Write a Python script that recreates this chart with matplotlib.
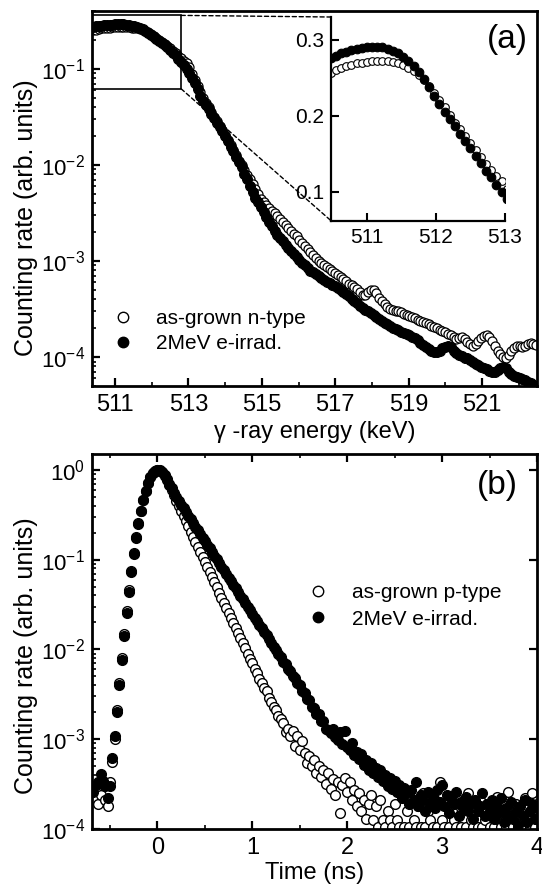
import numpy as np
import matplotlib
matplotlib.use("Agg")
import matplotlib.pyplot as plt
from matplotlib.lines import Line2D
from matplotlib.patches import Rectangle, ConnectionPatch
from matplotlib.ticker import FixedLocator, MultipleLocator, LogLocator, NullFormatter

plt.rcParams["font.family"] = ["Liberation Sans", "DejaVu Sans"]
plt.rcParams["mathtext.fontset"] = "custom"
plt.rcParams["mathtext.rm"] = "Liberation Sans"
plt.rcParams["mathtext.default"] = "regular"

# ---- (a) Doppler broadening spectra, channel grid 510.4 keV + 0.075 keV * k ----
E_START, E_STEP = 510.4, 0.075

dbs_asgrown = [
    0.253, 0.256, 0.260, 0.263, 0.265, 0.267, 0.269, 0.270, 0.271,
    0.272, 0.272, 0.272, 0.272, 0.271, 0.269, 0.267, 0.263, 0.259,
    0.254, 0.247, 0.239, 0.230, 0.221, 0.211, 0.201, 0.191, 0.182,
    0.173, 0.164, 0.155, 0.146, 0.137, 0.129, 0.121, 0.114, 0.104,
    0.0880, 0.0760, 0.0660, 0.0570, 0.0495, 0.0445, 0.0398, 0.0355, 0.0318,
    0.0284, 0.0256, 0.0231, 0.0206, 0.0182, 0.0160, 0.0143, 0.0126, 0.0111,
    0.0100, 8.91e-3, 7.94e-3, 7.08e-3, 6.31e-3, 5.62e-3, 5.01e-3, 4.47e-3, 4.12e-3,
    3.85e-3, 3.59e-3, 3.35e-3, 3.13e-3, 2.92e-3, 2.72e-3, 2.54e-3, 2.37e-3, 2.21e-3,
    2.07e-3, 1.93e-3, 1.80e-3, 1.66e-3, 1.55e-3, 1.45e-3, 1.33e-3, 1.24e-3, 1.16e-3,
    1.07e-3, 1.00e-3, 9.44e-4, 9.12e-4, 8.71e-4, 8.32e-4, 7.94e-4, 7.59e-4, 7.08e-4,
    6.76e-4, 6.46e-4, 6.17e-4, 5.82e-4, 5.62e-4, 5.37e-4, 5.13e-4, 4.79e-4, 4.47e-4,
    4.47e-4, 4.79e-4, 5.01e-4, 5.01e-4, 4.68e-4, 4.17e-4, 3.80e-4, 3.55e-4, 3.31e-4,
    3.16e-4, 3.09e-4, 3.02e-4, 3.05e-4, 2.95e-4, 2.82e-4, 2.75e-4, 2.69e-4, 2.63e-4,
    2.57e-4, 2.45e-4, 2.40e-4, 2.32e-4, 2.26e-4, 2.19e-4, 2.11e-4, 2.04e-4, 2.00e-4,
    1.93e-4, 1.86e-4, 1.82e-4, 1.76e-4, 1.70e-4, 1.62e-4, 1.55e-4, 1.58e-4, 1.62e-4,
    1.55e-4, 1.45e-4, 1.38e-4, 1.32e-4, 1.38e-4, 1.48e-4, 1.58e-4, 1.66e-4, 1.70e-4,
    1.62e-4, 1.48e-4, 1.32e-4, 1.17e-4, 1.07e-4, 1.00e-4, 9.77e-5, 1.05e-4, 1.15e-4,
    1.23e-4, 1.29e-4, 1.32e-4, 1.26e-4, 1.29e-4, 1.38e-4, 1.41e-4, 1.38e-4, 1.35e-4,
]

dbs_irrad = [
    0.272, 0.276, 0.279, 0.282, 0.284, 0.286, 0.288, 0.289, 0.290,
    0.291, 0.291, 0.290, 0.288, 0.285, 0.282, 0.277, 0.272, 0.265,
    0.257, 0.248, 0.238, 0.226, 0.215, 0.205, 0.196, 0.186, 0.176,
    0.167, 0.157, 0.147, 0.138, 0.128, 0.119, 0.109, 0.100, 0.091,
    0.0804, 0.0708, 0.0617, 0.0525, 0.0468, 0.0422, 0.0380, 0.0341, 0.0307,
    0.0275, 0.0248, 0.0224, 0.0200, 0.0178, 0.0155, 0.0138, 0.0122, 0.0107,
    9.44e-3, 8.13e-3, 7.08e-3, 6.10e-3, 5.25e-3, 4.57e-3, 4.07e-3, 3.63e-3, 3.24e-3,
    2.88e-3, 2.57e-3, 2.29e-3, 2.04e-3, 1.88e-3, 1.74e-3, 1.62e-3, 1.48e-3, 1.38e-3,
    1.27e-3, 1.17e-3, 1.10e-3, 1.02e-3, 9.55e-4, 9.02e-4, 8.51e-4, 7.94e-4, 7.67e-4,
    7.33e-4, 7.00e-4, 6.68e-4, 6.38e-4, 6.10e-4, 5.89e-4, 5.62e-4, 5.43e-4, 5.19e-4,
    5.01e-4, 4.79e-4, 4.57e-4, 4.32e-4, 4.07e-4, 3.85e-4, 3.63e-4, 3.39e-4, 3.24e-4,
    3.09e-4, 2.99e-4, 2.85e-4, 2.72e-4, 2.63e-4, 2.51e-4, 2.40e-4, 2.29e-4, 2.19e-4,
    2.09e-4, 2.02e-4, 1.95e-4, 1.91e-4, 1.84e-4, 1.78e-4, 1.72e-4, 1.68e-4, 1.62e-4,
    1.58e-4, 1.50e-4, 1.41e-4, 1.35e-4, 1.27e-4, 1.20e-4, 1.16e-4, 1.12e-4, 1.12e-4,
    1.17e-4, 1.23e-4, 1.27e-4, 1.29e-4, 1.26e-4, 1.17e-4, 1.11e-4, 1.06e-4, 1.02e-4,
    9.88e-5, 9.77e-5, 9.33e-5, 8.91e-5, 8.51e-5, 8.22e-5, 7.94e-5, 7.76e-5, 7.59e-5,
    7.24e-5, 7.08e-5, 7.08e-5, 7.41e-5, 7.76e-5, 7.94e-5, 7.76e-5, 7.08e-5, 6.61e-5,
    6.31e-5, 6.17e-5, 6.03e-5, 5.89e-5, 5.75e-5, 5.50e-5, 5.37e-5, 5.13e-5, 5.01e-5,
]

# ---- (b) lifetime spectra, channel grid -0.675 ns + 0.025 ns * k ----
T_START, T_STEP = -0.675, 0.025

lt_asgrown = [
    2.2e-4, 2.8e-4, 1.9e-4, 2.4e-4, 3.2e-4, 2.1e-4, 1.8e-4,
    3.3e-4, 5.6e-4, 1.0e-3, 2.1e-3, 4.2e-3, 8.0e-3, 0.0150,
    0.0265, 0.046, 0.075, 0.118, 0.178, 0.255, 0.350,
    0.462, 0.585, 0.710, 0.825, 0.918, 0.978, 1.0,
    0.98, 0.935, 0.86, 0.77, 0.68, 0.595, 0.52, 0.455,
    0.398, 0.348, 0.305, 0.267, 0.234, 0.205, 0.180, 0.158,
    0.139, 0.122, 0.107, 0.094, 0.0825, 0.0724, 0.0636, 0.0558,
    0.049, 0.043, 0.0378, 0.0332, 0.0291, 0.0256, 0.0224, 0.0197,
    0.0173, 0.0152, 0.0133, 0.0117, 0.0103, 0.0090, 0.0079, 0.0070,
    0.0061, 0.0054, 0.0047, 0.0042, 0.0037, 0.0034, 0.0029, 0.0026,
    0.0023, 0.0021, 0.0018, 0.0017, 0.0015, 0.0012, 0.0013, 0.0011,
    0.00125, 0.00085, 0.0011, 0.00075, 0.00095, 0.0007, 0.00055, 0.00065,
    0.0005, 0.00058, 0.00042, 0.0005, 0.00038, 0.00045, 0.00032, 0.00042,
    0.00028, 0.00036, 0.00024, 0.00033, 0.00015, 0.00031, 0.00037, 0.00026,
    0.00033, 0.00021, 0.00027, 0.00018, 0.00025, 0.00016, 0.00021, 0.00013,
    0.00019, 0.00024, 0.000125, 0.00018, 0.000105, 0.00021, 0.000125, 0.000105,
    0.00016, 0.000125, 0.000105, 0.00019, 0.000125, 0.000105, 0.00024, 0.000105,
    0.00016, 0.000105, 0.00021, 0.000125, 0.000105, 0.00018, 0.000105, 0.00025,
    0.000105, 0.00016, 0.000125, 0.000105, 0.00021, 0.000105, 0.00033, 0.000125,
    0.000105, 0.00019, 0.000105, 0.00016, 0.000125, 0.000105, 0.00021, 0.000105,
    0.00018, 0.000105, 0.00025, 0.000125, 0.000105, 0.00016, 0.000105, 0.00021,
    0.000105, 0.000125, 0.00019, 0.000105, 0.00016, 0.000105, 0.00023, 0.000125,
    0.000105, 0.00018, 0.000105, 0.00026, 0.000125, 0.000105, 0.00019, 0.000105,
    0.00016, 0.000105, 0.00022, 0.000125, 0.000105, 0.00025, 0.000105, 0.00019,
]

lt_irrad = [
    2.6e-4, 3.1e-4, 3.3e-4, 4.1e-4, 3.4e-4, 3.0e-4, 2.2e-4,
    3.0e-4, 6.2e-4, 1.1e-3, 2.0e-3, 4.0e-3, 7.6e-3, 0.0142,
    0.0256, 0.044, 0.072, 0.114, 0.173, 0.249, 0.345,
    0.458, 0.581, 0.707, 0.823, 0.917, 0.978, 1.0,
    0.985, 0.945, 0.875, 0.79, 0.70, 0.62, 0.555, 0.50,
    0.452, 0.41, 0.372, 0.339, 0.308, 0.280, 0.255, 0.233,
    0.212, 0.193, 0.176, 0.160, 0.146, 0.133, 0.121, 0.110,
    0.101, 0.092, 0.0835, 0.0761, 0.0693, 0.0632, 0.0576, 0.0524,
    0.0478, 0.0435, 0.0397, 0.0361, 0.0329, 0.0300, 0.0273, 0.0249,
    0.0226, 0.0208, 0.0187, 0.0173, 0.0155, 0.0144, 0.0129, 0.0119,
    0.0107, 0.0099, 0.0088, 0.0083, 0.0073, 0.0069, 0.0061, 0.0057,
    0.0050, 0.0048, 0.0042, 0.0040, 0.0034, 0.0033, 0.0028, 0.0027,
    0.0023, 0.0022, 0.0019, 0.0019, 0.0016, 0.0016, 0.0013, 0.00128,
    0.00118, 0.0013, 0.00105, 0.00098, 0.0012, 0.00088, 0.00125, 0.00082,
    0.00075, 0.0009, 0.00066, 0.00072, 0.0006, 0.00068, 0.00052, 0.00058,
    0.00046, 0.00055, 0.00042, 0.00048, 0.00038, 0.00045, 0.00034, 0.0004,
    0.0003, 0.00037, 0.00028, 0.00034, 0.00026, 0.00031, 0.00022, 0.00029,
    0.00025, 0.00019, 0.00027, 0.00021, 0.00033, 0.00018, 0.00024, 0.00021,
    0.00016, 0.00026, 0.00019, 0.00023, 0.00017, 0.00027, 0.0002, 0.00031,
    0.00018, 0.00024, 0.00015, 0.00021, 0.00019, 0.00026, 0.00014, 0.0002,
    0.00017, 0.00023, 0.00016, 0.00019, 0.00013, 0.00021, 0.00016, 0.00018,
    0.00025, 0.00014, 0.00019, 0.00016, 0.00021, 0.00013, 0.00018, 0.00015,
    0.00022, 0.00012, 0.00017, 0.00014, 0.0002, 0.00013, 0.00016, 0.00011,
    0.00018, 0.00014, 0.00021, 0.00012, 0.00016, 0.00019, 0.00013, 0.00017,
]

LABEL_A = ["as-grown n-type", "2MeV e-irrad."]
LABEL_B = ["as-grown p-type", "2MeV e-irrad."]

FS = 17
SPINE_W = 2.0


def channel_axis(start, step, values):
    return start + step * np.arange(len(values))


def style_log_axes(ax):
    for s in ax.spines.values():
        s.set_linewidth(SPINE_W)
    ax.yaxis.set_major_locator(LogLocator(base=10, numticks=10))
    ax.yaxis.set_minor_locator(LogLocator(base=10, subs=np.arange(2, 10), numticks=10))
    ax.yaxis.set_minor_formatter(NullFormatter())
    ax.tick_params(which="major", direction="in", length=6, width=1.6,
                   labelsize=FS, pad=6)
    ax.tick_params(axis="y", which="major", labelsize=16, pad=5)
    ax.tick_params(which="minor", direction="in", length=3, width=1.2)


def marker_handles(ms):
    return [Line2D([], [], ls="none", marker="o", ms=ms, mfc="white", mec="k", mew=1.0),
            Line2D([], [], ls="none", marker="o", ms=ms, mfc="k", mec="k", mew=1.0)]


fig = plt.figure(figsize=(5.42, 8.86), dpi=100)

# ---------------- (a) ----------------
E_asg = channel_axis(E_START, E_STEP, dbs_asgrown)
E_irr = channel_axis(E_START, E_STEP, dbs_irrad)

ax_a = fig.add_axes([0.1697, 0.5643, 0.8210, 0.4233])
ax_a.set_yscale("log")
ax_a.plot(E_asg, dbs_asgrown, ls="none", marker="o", ms=6.5, mfc="white", mec="k", mew=0.9)
ax_a.plot(E_irr, dbs_irrad, ls="none", marker="o", ms=7, mfc="k", mec="k", mew=0.9)
ax_a.set_xlim(510.37, 522.5)
ax_a.set_ylim(5.0e-5, 0.40)
ax_a.xaxis.set_major_locator(FixedLocator([511, 513, 515, 517, 519, 521]))
ax_a.xaxis.set_minor_locator(FixedLocator([512, 514, 516, 518, 520, 522]))
style_log_axes(ax_a)
ax_a.set_xlabel("γ -ray energy (keV)", fontsize=FS, labelpad=3)
ax_a.set_ylabel("Counting rate (arb. units)", fontsize=FS + 1)
ax_a.yaxis.set_label_coords(-0.122, 0.45)
ax_a.legend(marker_handles(7.5), LABEL_A, loc="upper left", frameon=False,
            bbox_to_anchor=(0.05, 0.205), fontsize=15, handlelength=0.8,
            handletextpad=1.2, labelspacing=0.3, borderaxespad=0, borderpad=0)

# zoom box around the peak and the inset it expands to
Z_X0, Z_X1, Z_Y0, Z_Y1 = 510.37, 512.8, 0.062, 0.36
ax_a.add_patch(Rectangle((Z_X0, Z_Y0), Z_X1 - Z_X0, Z_Y1 - Z_Y0, fill=False,
                         ec="k", lw=1.2, zorder=5))

ax_in = fig.add_axes([0.6107, 0.7509, 0.3210, 0.2299])
ax_in.set_facecolor("none")
ax_in.plot(E_asg, dbs_asgrown, ls="none", marker="o", ms=5.5, mfc="white", mec="k", mew=0.8)
ax_in.plot(E_irr, dbs_irrad, ls="none", marker="o", ms=6.2, mfc="k", mec="k", mew=0.8)
ax_in.set_xlim(510.48, 513.0)
ax_in.set_ylim(0.062, 0.33)
ax_in.xaxis.set_major_locator(FixedLocator([511, 512, 513]))
ax_in.yaxis.set_major_locator(FixedLocator([0.1, 0.2, 0.3]))
ax_in.spines["top"].set_visible(False)
ax_in.spines["right"].set_visible(False)
for s in ("left", "bottom"):
    ax_in.spines[s].set_linewidth(1.6)
ax_in.tick_params(direction="in", length=6, width=1.5, labelsize=15, pad=5)

for xa, xb in (((Z_X1, Z_Y1), (0, 1)), ((Z_X1, Z_Y0), (0, 0))):
    con = ConnectionPatch(xyA=xa, coordsA=ax_a.transData, xyB=xb,
                          coordsB=ax_in.transAxes, ls=(0, (3, 2)), lw=1.0, color="k")
    fig.add_artist(con)

fig.text(0.937, 0.955, "(a)", fontsize=24, ha="center", va="center")

# ---------------- (b) ----------------
t_asg = channel_axis(T_START, T_STEP, lt_asgrown)
t_irr = channel_axis(T_START, T_STEP, lt_irrad)

ax_b = fig.add_axes([0.1697, 0.0643, 0.8210, 0.4233])
ax_b.set_yscale("log")
ax_b.plot(t_asg, lt_asgrown, ls="none", marker="o", ms=7, mfc="white", mec="k", mew=1.0)
ax_b.plot(t_irr, lt_irrad, ls="none", marker="o", ms=7, mfc="k", mec="k", mew=1.0)
ax_b.set_xlim(-0.69, 4.0)
ax_b.set_ylim(1e-4, 1.5)
ax_b.xaxis.set_major_locator(MultipleLocator(1))
ax_b.xaxis.set_minor_locator(MultipleLocator(0.5))
style_log_axes(ax_b)
ax_b.tick_params(which="major", top=True, right=True)
ax_b.tick_params(axis="x", which="minor", top=True)
ax_b.set_xlabel("Time (ns)", fontsize=FS, labelpad=2)
ax_b.set_ylabel("Counting rate (arb. units)", fontsize=FS + 1)
ax_b.yaxis.set_label_coords(-0.122, 0.462)
ax_b.text(0.911, 0.917, "(b)", transform=ax_b.transAxes, fontsize=24,
          ha="center", va="center")
ax_b.legend(marker_handles(7.5), LABEL_B, loc="upper left", frameon=False,
            bbox_to_anchor=(0.49, 0.655), fontsize=15, handlelength=0.8,
            handletextpad=1.2, labelspacing=0.35, borderaxespad=0, borderpad=0)

fig.savefig("out.png", dpi=100)
